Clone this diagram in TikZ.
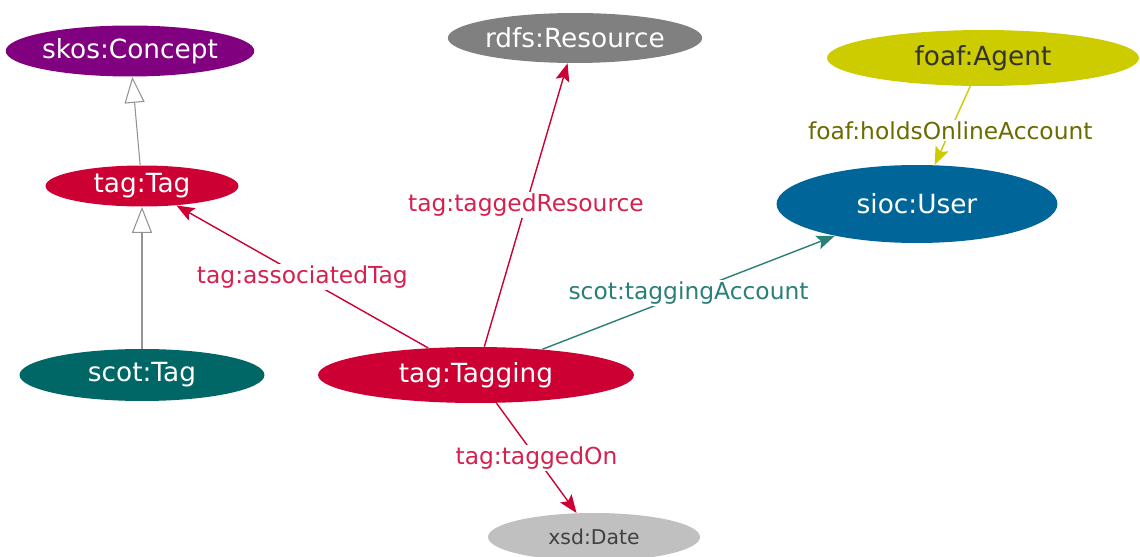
\documentclass[tikz,border=0pt]{standalone}
\usepackage{fontspec}
\setmainfont{DejaVu Sans}
\usetikzlibrary{shapes.geometric,arrows.meta}

\definecolor{skospurple}{HTML}{800080}
\definecolor{rdfsgray}{HTML}{808080}
\definecolor{foafyellow}{HTML}{CCCC00}
\definecolor{foafolive}{HTML}{6B6B00}
\definecolor{tagred}{HTML}{CC0033}
\definecolor{taglabel}{HTML}{D6204E}
\definecolor{siocblue}{HTML}{006699}
\definecolor{scotteal}{HTML}{006666}
\definecolor{scotline}{HTML}{2A8078}
\definecolor{xsdgray}{HTML}{C0C0C0}

\newcommand{\classfont}{\fontsize{15pt}{18pt}\selectfont}
\newcommand{\propfont}{\fontsize{13.3pt}{16pt}\selectfont}

\tikzset{
	class/.style={ellipse, inner sep=0pt, text=white, font=\classfont},
	prop/.style={fill=white, inner sep=1pt, font=\propfont},
	subclass/.style={draw=gray!85, line width=0.6pt, -{Triangle[open,length=0.52cm,width=0.4cm,fill=white]}},
	relation/.style={line width=0.8pt, -{Stealth[length=0.36cm,width=0.28cm,inset=0.07cm]}}
}

\begin{document}
\begin{tikzpicture}[x=0.02cm,y=-0.02cm]
			\useasboundingbox[fill=white] (0,0) rectangle (1140,557); % canvas
			% classes
			\node[class, fill=skospurple, minimum width=4.94cm, minimum height=1.02cm] (skosconcept) at (130,51) {skos:Concept};
			\node[class, fill=rdfsgray, minimum width=4.58cm, minimum height=1.0cm] (rdfsresource) at (575,38) {rdfs:Resource};
			\node[class, fill=foafyellow, text=black!80, minimum width=6.24cm, minimum height=1.12cm] (foafagent) at (983,58) {foaf:Agent};
			\node[class, fill=tagred, minimum width=3.86cm, minimum height=0.82cm] (tagtag) at (142,186) {tag:Tag};
			\node[class, fill=siocblue, minimum width=5.62cm, minimum height=1.56cm] (siocuser) at (917,204) {sioc:User};
			\node[class, fill=scotteal, minimum width=4.9cm, minimum height=1.04cm] (scottag) at (142,375) {scot:Tag};
			\node[class, fill=tagred, minimum width=6.32cm, minimum height=1.12cm] (tagtagging) at (476,375) {tag:Tagging};
			\node[class, fill=xsdgray, text=black!75, font=\fontsize{11.6pt}{14pt}\selectfont, minimum width=4.24cm, minimum height=0.96cm] (xsddate) at (594,537) {xsd:Date};
			% subclass links
			\draw[subclass] (tagtag) -- (skosconcept);
			\draw[subclass] (scottag) -- (tagtag);
			% properties
			\draw[relation, draw=tagred] (tagtagging) -- node[prop, text=taglabel] {tag:associatedTag} (tagtag);
			\draw[relation, draw=tagred] (tagtagging) -- node[prop, text=taglabel] {tag:taggedResource} (rdfsresource);
			\draw[relation, draw=scotline] (tagtagging) -- node[prop, text=scotline] {scot:taggingAccount} (siocuser);
			\draw[relation, draw=foafyellow] (foafagent) -- node[prop, text=foafolive, pos=0.56] {foaf:holdsOnlineAccount} (siocuser);
			\draw[relation, draw=tagred] (tagtagging) -- node[prop, text=taglabel] {tag:taggedOn} (xsddate);
\end{tikzpicture}
\end{document}
